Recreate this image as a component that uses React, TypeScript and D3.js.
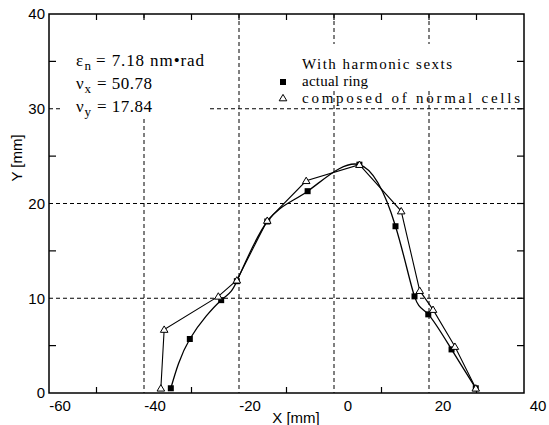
import React from "react";
import * as d3 from "d3";

// ---- data (X [mm], Y [mm]) ----
const ringX = [-37.3, -33.3, -26.7, -23.4, -17.0, -8.5, 2.4, 10.0, 14.0, 16.9, 21.8, 26.9];
const ringY = [0.5, 5.7, 9.8, 11.8, 18.1, 21.3, 24.1, 17.6, 10.2, 8.3, 4.6, 0.5];
const cellsX = [-39.4, -38.7, -27.3, -23.4, -17.0, -8.8, 2.4, 11.2, 15.1, 17.9, 22.5, 26.9];
const cellsY = [0.5, 6.7, 10.2, 11.9, 18.2, 22.4, 24.1, 19.2, 10.8, 8.8, 4.9, 0.5];

const xTickLabels = [-60, -40, -20, 0, 20, 40];
const yTickLabels = [0, 10, 20, 30, 40];
const xGrid = [-40, -20, 0, 20];
const yGrid = [10, 20, 30];
const xMinorBottom = [-50, -30, -10, 10, 30];
const xTop = [-50, -40, -30, -20, -10, 0, 10, 20, 30];
const ySide = [5, 15, 25, 35];
const ySideRight = [5, 10, 15, 20, 25, 30, 35];

const W = 549;
const H = 425;

export default function App() {
  const L = 49, R = 524, T = 14, B = 393;
  // frame / grid scale
  const xf = d3.scaleLinear().domain([-60, 40]).range([L, R]);
  // data and label scale (offset in the scanned original)
  const xd = d3.scaleLinear().domain([-60, 40]).range([63, 538]);
  const y = d3.scaleLinear().domain([0, 40]).range([B, T]);

  const ring = ringX.map((v, i) => [v, ringY[i]] as [number, number]);
  const cells = cellsX.map((v, i) => [v, cellsY[i]] as [number, number]);

  const ringLine = d3
    .line<[number, number]>()
    .x((d) => xd(d[0]))
    .y((d) => y(d[1]))
    .curve(d3.curveNatural);
  const cellsLine = d3
    .line<[number, number]>()
    .x((d) => xd(d[0]))
    .y((d) => y(d[1]));

  const tri = (cx: number, cy: number) =>
    `M${cx},${cy - 3.6}L${cx + 3.8},${cy + 2.8}L${cx - 3.8},${cy + 2.8}Z`;

  const sans = "'Liberation Sans', Arial, Helvetica, sans-serif";
  const serif = "'Liberation Serif', 'Times New Roman', Times, serif";
  const dash = "4,3";

  return (
    <svg
      width={W}
      height={H}
      viewBox={`0 0 ${W} ${H}`}
      style={{ position: "absolute", left: 0, top: 0, background: "#fff" }}
    >
      <rect x={0} y={0} width={W} height={H} fill="#fff" />
      {/* grid */}
      <g stroke="#000" strokeWidth={1} strokeDasharray={dash}>
        {xGrid.map((v) => (
          <line key={"gx" + v} x1={xf(v)} x2={xf(v)} y1={T} y2={B} />
        ))}
        {yGrid.map((v) => (
          <line key={"gy" + v} x1={L} x2={R} y1={y(v)} y2={y(v)} />
        ))}
      </g>
      {/* white boxes behind annotations */}
      <rect x={62} y={18} width={145} height={100} fill="#fff" />
      <rect x={292} y={44} width={178} height={46} fill="#fff" />

      {/* ticks */}
      <g stroke="#000" strokeWidth={1.2}>
        {xTop.map((v) => (
          <line key={"tt" + v} x1={xf(v)} x2={xf(v)} y1={T} y2={T + 6} />
        ))}
        {xMinorBottom.map((v) => (
          <line key={"tb" + v} x1={xf(v)} x2={xf(v)} y1={B} y2={B - 6} />
        ))}
        {ySide.map((v) => (
          <line key={"tl" + v} x1={L} x2={L + 7} y1={y(v)} y2={y(v)} />
        ))}
        {ySideRight.map((v) => (
          <line key={"tr" + v} x1={R} x2={R - 7} y1={y(v)} y2={y(v)} />
        ))}
      </g>
      {/* frame */}
      <rect x={L} y={T} width={R - L} height={B - T} fill="none" stroke="#000" strokeWidth={1.5} />

      {/* tick labels */}
      <g fontFamily={sans} fontSize={15} fill="#000">
        {xTickLabels.map((v) => (
          <text key={"xl" + v} x={xd(v)} y={411} textAnchor="middle" dx={v < 0 ? -3 : 0}>
            {v}
          </text>
        ))}
        {yTickLabels.map((v) => (
          <text key={"yl" + v} x={45} y={y(v)} dy="0.35em" textAnchor="end">
            {v}
          </text>
        ))}
      </g>
      {/* axis titles */}
      <text x={296} y={423} textAnchor="middle" fontFamily={sans} fontSize={15}>
        X [mm]
      </text>
      <text
        transform="translate(22,158) rotate(-90)"
        textAnchor="middle"
        fontFamily={sans}
        fontSize={15}
      >
        Y [mm]
      </text>

      {/* data */}
      <path d={cellsLine(cells) || ""} fill="none" stroke="#000" strokeWidth={1.1} />
      <path d={ringLine(ring) || ""} fill="none" stroke="#000" strokeWidth={1.3} />
      {ring.map((d, i) => (
        <rect key={"s" + i} x={xd(d[0]) - 3} y={y(d[1]) - 3} width={6} height={6} fill="#000" />
      ))}
      {cells.map((d, i) => (
        <path key={"t" + i} d={tri(xd(d[0]), y(d[1]))} fill="#fff" stroke="#000" strokeWidth={1} />
      ))}

      {/* annotation */}
      <g fontFamily={serif} fontSize={17} fill="#000">
        <text x={76} y={66}>ε</text>
        <text x={84.5} y={70} fontSize={13}>n</text>
        <text x={96} y={66} textLength={108} lengthAdjust="spacing">= 7.18 nm•rad</text>
        <text x={76} y={89}>ν</text>
        <text x={84.5} y={93} fontSize={13}>x</text>
        <text x={97} y={89} textLength={55} lengthAdjust="spacing">= 50.78</text>
        <text x={76} y={112}>ν</text>
        <text x={84.5} y={116} fontSize={13}>y</text>
        <text x={97} y={112} textLength={55} lengthAdjust="spacing">= 17.84</text>
      </g>
      {/* legend */}
      <g fontFamily={serif} fontSize={15} fill="#000">
        <text x={302} y={69} textLength={150} lengthAdjust="spacing">With harmonic sexts</text>
        <rect x={280} y={79} width={6} height={6} fill="#000" />
        <text x={302} y={86} textLength={66} lengthAdjust="spacing">actual ring</text>
        <path d={tri(283, 98)} fill="#fff" stroke="#000" strokeWidth={1} />
        <text x={302} y={103} textLength={218} lengthAdjust="spacing">composed of normal cells</text>
      </g>
    </svg>
  );
}
